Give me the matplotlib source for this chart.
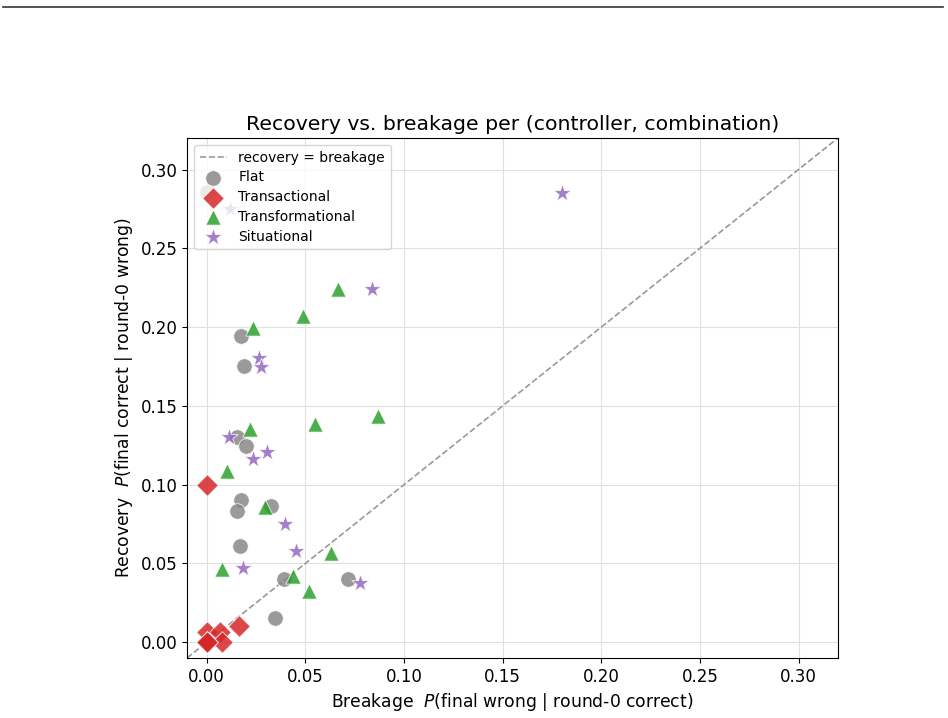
import matplotlib
matplotlib.use("Agg")
import matplotlib.pyplot as plt
from matplotlib.lines import Line2D

flat_x = [0.000, 0.0172, 0.0190, 0.0152, 0.0198, 0.0172, 0.0152, 0.0324, 0.0167, 0.0390, 0.0715, 0.0345]
flat_y = [0.286, 0.1945, 0.175, 0.130, 0.1246, 0.0903, 0.0833, 0.0865, 0.061, 0.040, 0.040, 0.0153]

trans_x = [0.000, 0.000, 0.0066, 0.000, 0.0076, 0.0162, 0.000, 0.000]
trans_y = [0.100, 0.0064, 0.0064, 0.000, 0.000, 0.0102, 0.000, 0.000]

transf_x = [0.0233, 0.0664, 0.0487, 0.0218, 0.0547, 0.0867, 0.0101, 0.0294, 0.0076, 0.0436, 0.0628, 0.0517]
transf_y = [0.1996, 0.224, 0.207, 0.1354, 0.1386, 0.1437, 0.1087, 0.0858, 0.0464, 0.042, 0.0566, 0.0324]

sit_x = [0.0117, 0.180, 0.0836, 0.0264, 0.0274, 0.0112, 0.0304, 0.0233, 0.0395, 0.0451, 0.0182, 0.0775]
sit_y = [0.275, 0.285, 0.2244, 0.1805, 0.1748, 0.1303, 0.1208, 0.1163, 0.075, 0.0578, 0.047, 0.0375]

lims = [-0.01, 0.32]
xticks = [0.00, 0.05, 0.10, 0.15, 0.20, 0.25, 0.30]
yticks = [0.00, 0.05, 0.10, 0.15, 0.20, 0.25, 0.30]

fig = plt.figure(figsize=(9.48, 7.18), dpi=100)
ax = fig.add_axes([187/948, 1-658/718, (838-187)/948, (658-138)/718])

ax.plot(lims, lims, ls="--", color="#999999", lw=1.2, label="recovery = breakage", zorder=1)

kw = dict(alpha=0.85, edgecolors="white", linewidths=0.6, zorder=3)
ax.scatter(flat_x, flat_y, s=125, marker="o", color="#888888", label="Flat", **kw)
ax.scatter(trans_x, trans_y, s=120, marker="D", color="#d62728", label="Transactional", **kw)
ax.scatter(transf_x, transf_y, s=120, marker="^", color="#2ca02c", label="Transformational", **kw)
ax.scatter(sit_x, sit_y, s=175, marker="*", color="#9467bd", label="Situational", **kw)

ax.set_xlim(lims)
ax.set_ylim(lims)
ax.set_xticks(xticks)
ax.set_yticks(yticks)
ax.set_xticklabels([f"{t:.2f}" for t in xticks])
ax.set_yticklabels([f"{t:.2f}" for t in yticks])
ax.tick_params(labelsize=12)
ax.grid(True, color="#e0e0e0", lw=0.8, zorder=0)
ax.set_axisbelow(True)

ax.set_xlabel(r"Breakage  $P$(final wrong | round-0 correct)", fontsize=12.3)
ax.set_ylabel(r"Recovery  $P$(final correct | round-0 wrong)", fontsize=12.3)
ax.set_title("Recovery vs. breakage per (controller, combination)", fontsize=14.7)
ax.legend(loc="upper left", fontsize=10, labelspacing=0.42)

fig.add_artist(Line2D([3/948, 943/948], [1-7/718, 1-7/718], transform=fig.transFigure, color="#333333", lw=1.2))

fig.savefig("out.png", dpi=100)
